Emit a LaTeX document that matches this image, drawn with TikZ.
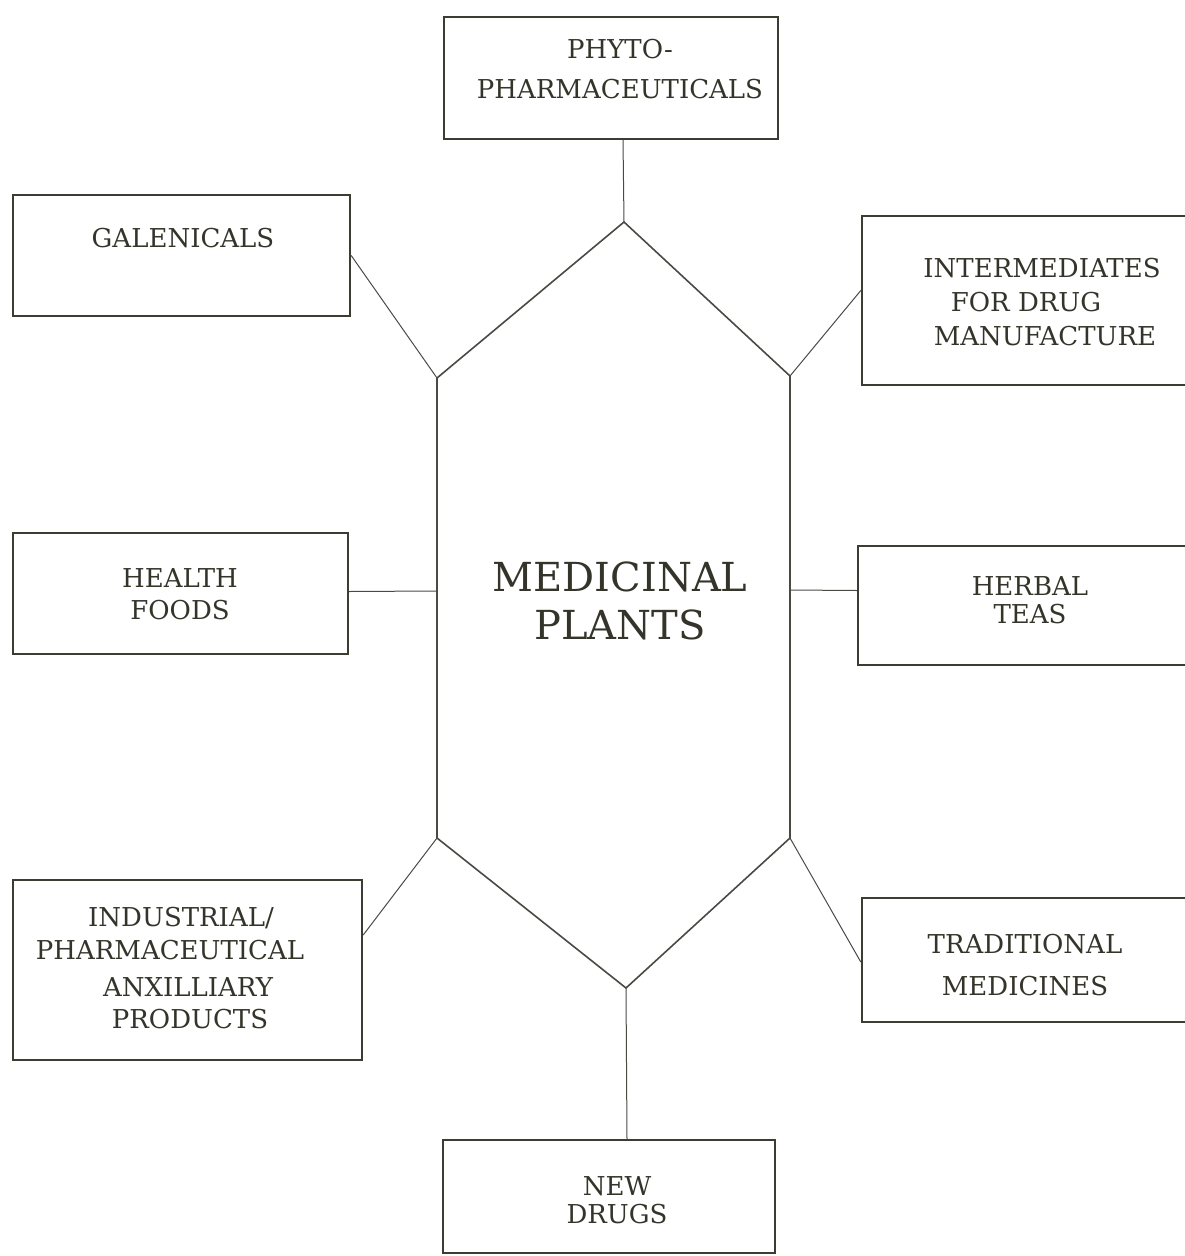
\documentclass[tikz,border=0pt]{standalone}
\usepackage{fontspec}
\setmainfont{DejaVu Serif}
\usetikzlibrary{calc}
\definecolor{ink}{HTML}{34342A}
\definecolor{boxline}{HTML}{3C3C32}
\definecolor{thin}{HTML}{4A4A44}
\begin{document}
\begin{tikzpicture}[x=1pt,y=-1pt,
  box/.style={draw=boxline,line width=2.4pt,rectangle,inner sep=0pt},
  lbl/.style={text=ink,font=\fontsize{26}{32}\selectfont,align=center,inner sep=0pt},
  big/.style={text=ink,font=\fontsize{40}{48}\selectfont,align=center,inner sep=0pt},
  conn/.style={draw=thin,line width=1pt},
  hexline/.style={draw=thin,line width=1.6pt,line join=miter}]
\useasboundingbox (0,0) rectangle (1185,1256);
% boxes
\node[box,minimum width=334pt,minimum height=122pt] (phyto) at (611,78) {};
\node[box,minimum width=337pt,minimum height=121pt] (galen) at (181.5,255.5) {};
\node[box,minimum width=330pt,minimum height=169pt] (inter) at (1027,300.5) {};
\node[box,minimum width=335pt,minimum height=121pt] (health) at (180.5,593.5) {};
\node[box,minimum width=334pt,minimum height=119pt] (herbal) at (1025,605.5) {};
\node[box,minimum width=349pt,minimum height=180pt] (indus) at (187.5,970) {};
\node[box,minimum width=330pt,minimum height=124pt] (trad) at (1027,960) {};
\node[box,minimum width=332pt,minimum height=113pt] (newd) at (609,1196.5) {};
% hexagon
\coordinate (hT) at (624,222);
\coordinate (hUL) at (437,378);
\coordinate (hUR) at (790,376);
\coordinate (hLL) at (437,838);
\coordinate (hLR) at (790,838);
\coordinate (hB) at (626,988);
\draw[hexline] (hT) -- (hUR) -- (hLR) -- (hB) -- (hLL) -- (hUL) -- cycle;
\coordinate (hL) at (437,591);
\coordinate (hR) at (790,590);
% connectors
\draw[conn] ($(phyto.south)+(12,0)$) -- (hT);
\draw[conn] (galen.east) -- (hUL);
\draw[conn] ($(inter.west)+(0,-10)$) -- (hUR);
\draw[conn] ($(health.east)+(0,-2)$) -- (hL);
\draw[conn] ($(herbal.west)+(0,-15)$) -- (hR);
\draw[conn] ($(indus.east)+(0,-35)$) -- (hLL);
\draw[conn] ($(trad.west)+(0,2)$) -- (hLR);
\draw[conn] ($(newd.north)+(18,0)$) -- (hB);
% labels
\node[lbl,font=\fontsize{26}{40}\selectfont] (tphyto) at (620,69) {PHYTO-\\PHARMACEUTICALS};
\node[lbl] (tgalen) at (183,238) {GALENICALS};
\node[lbl] (tinter1) at (1042,268) {INTERMEDIATES};
\node[lbl] (tinter2) at (1026,302) {FOR DRUG};
\node[lbl] (tinter3) at (1045,336) {MANUFACTURE};
\node[lbl] (thealth) at (180,594) {HEALTH\\FOODS};
\node[lbl,font=\fontsize{26}{28}\selectfont] (therbal) at (1030,600) {HERBAL\\TEAS};
\node[lbl] (tind1) at (181,918) {INDUSTRIAL/};
\node[lbl] (tind2) at (170,950) {PHARMACEUTICAL};
\node[lbl] (tind3) at (188,987) {ANXILLIARY};
\node[lbl] (tind4) at (190,1019) {PRODUCTS};
\node[lbl,font=\fontsize{26}{42}\selectfont] (ttrad) at (1025,965) {TRADITIONAL\\MEDICINES};
\node[lbl,font=\fontsize{26}{28}\selectfont] (tnew) at (617,1200) {NEW\\DRUGS};
\node[big] (tmed) at (620,601) {MEDICINAL\\PLANTS};
\end{tikzpicture}
\end{document}
